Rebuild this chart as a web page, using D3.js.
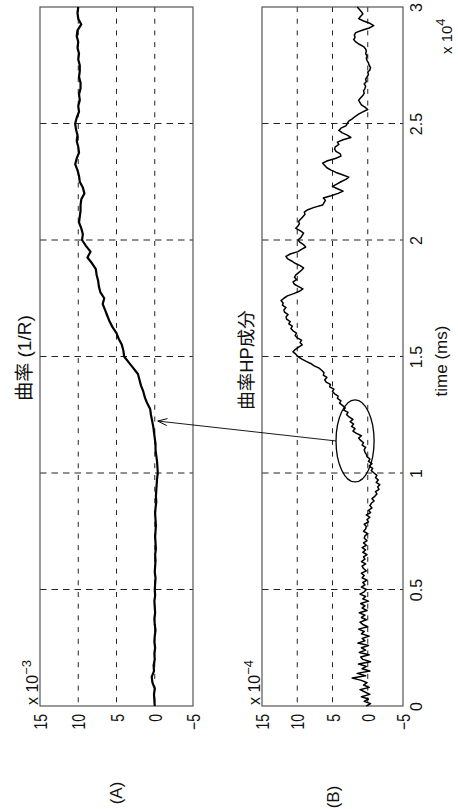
<!DOCTYPE html>
<html>
<head>
<meta charset="utf-8">
<script src="https://cdn.jsdelivr.net/npm/d3@7/dist/d3.min.js"></script>
<style>
  html, body { margin: 0; padding: 0; background: #fff; }
  svg { display: block; }
  text { font-family: "Liberation Sans", "Noto Sans CJK JP", sans-serif; fill: #111; }
</style>
</head>
<body>
<svg id="fig" width="458" height="809"></svg>
<script>
// ---- data -------------------------------------------------------------
// time axis (ms) and tick labels (x 10^4 ms)
const timeTicks = [0, 5000, 10000, 15000, 20000, 25000, 30000];
const timeTickLabels = ["0", "0.5", "1", "1.5", "2", "2.5", "3"];
// value axis ticks (shared by both panels, scaled by the multiplier)
const valueTicks = [15, 10, 5, 0, -5];
const valueTickLabels = ["15", "10", "5", "0", "\u22125"];

// (A) curvature 1/R, x 10^-3, sampled every 250 ms from 0 to 30000 ms
const stepA = 250;
const curvature = [
  0.0, 0.05, 0.1, 0.0, 0.3, 0.4, 0.1, 0.15, 0.0, 0.05,
  -0.05, 0.05, 0.0, -0.1, 0.0, 0.05, -0.05, 0.0, 0.05, -0.05,
  0.0, -0.05, -0.1, 0.0, -0.05, -0.1, -0.05, -0.15, -0.1, -0.05,
  -0.1, -0.15, -0.1, -0.05, -0.1, -0.2, -0.15, -0.2, -0.25, -0.3,
  -0.4, -0.35, -0.3, -0.2, -0.1, -0.1, 0.0, 0.1, 0.2, 0.35,
  0.5, 0.6, 1.0, 1.3, 1.5, 1.8, 2.0, 2.2, 2.8, 3.4,
  4.0, 4.1, 4.3, 4.7, 5.0, 5.5, 5.9, 6.2, 6.5, 6.8,
  6.6, 7.1, 7.3, 7.4, 7.6, 7.7, 8.2, 8.8, 8.4, 9.0,
  9.5, 9.4, 9.6, 9.9, 9.8, 9.7, 9.7, 9.6, 9.2, 9.4,
  9.8, 9.9, 10.1, 10.4, 10.2, 9.9, 10.0, 10.2, 10.1, 10.3,
  10.4, 10.2, 9.9, 10.0, 9.8, 9.9, 9.7, 9.7, 9.9, 9.8,
  9.8, 10.0, 9.9, 10.1, 10.0, 10.2, 10.1, 9.6, 10.0, 10.1,
  10.0
];

// (B) high-pass component of curvature, x 10^-4, sampled every 100 ms
const stepB = 100;
const curvatureHP = [
  0.2, -0.4, 0.5, -0.1, 0.9, -0.3, 0.4, 1.1, -0.2, 0.6,
  0.1, 0.9, 2.2, 0.3, 1.5, -0.3, 0.8, 0.2, 1.3, -0.4,
  0.7, 1.0, -0.2, 1.2, 0.3, 0.9, -0.1, 1.4, 0.4, 0.8,
  -0.2, 0.9, 0.5, 1.3, 0.0, 0.7, 1.1, 0.2, 0.9, 0.4,
  1.2, 0.1, 0.8, 0.4, 1.0, -0.1, 0.7, 0.3, 1.1, 0.5,
  0.2, 0.9, 0.4, 0.7, 0.1, 0.8, 0.5, 0.9, 0.2, 0.6,
  0.8, 0.3, 0.9, 0.4, 0.6, 0.1, 0.7, 0.3, 0.8, 0.2,
  0.6, 0.1, 0.5, 0.4, 0.0, 0.6, 0.3, 0.2, 0.5, -0.1,
  0.1, -0.3, 0.2, -0.4, -0.1, -0.6, -0.3, -0.5, -0.9, -0.6,
  -1.0, -1.3, -1.1, -1.6, -1.4, -1.7, -1.2, -1.5, -1.1, -1.3,
  -0.9, -0.5, -0.7, -0.2, -0.6, -0.1, -0.3, 0.1, 0.2, 0.4,
  0.5, 0.3, 0.8, 0.6, 1.0, 1.3, 0.9, 1.6, 2.1, 1.8,
  2.3, 2.0, 2.5, 2.1, 2.6, 3.0, 2.8, 3.4, 3.2, 3.6,
  4.0, 3.8, 4.3, 4.2, 4.7, 5.0, 4.8, 5.4, 5.3, 5.9,
  6.1, 5.8, 6.3, 6.2, 6.5, 6.9, 7.6, 8.1, 8.8, 9.4,
  9.9, 10.2, 10.6, 10.3, 9.8, 9.3, 9.6, 9.4, 10.0, 10.3,
  10.1, 10.6, 10.9, 10.7, 11.2, 11.0, 11.5, 11.6, 11.3, 11.8,
  11.9, 11.6, 12.1, 12.0, 12.3, 11.9, 11.4, 10.5, 9.7, 9.2,
  9.8, 10.4, 10.6, 10.1, 10.4, 10.2, 9.8, 9.4, 9.1, 9.6,
  10.3, 10.8, 11.4, 11.6, 11.0, 9.9, 9.4, 8.8, 9.1, 9.6,
  9.9, 9.5, 9.3, 9.1, 9.6, 10.2, 9.9, 9.7, 9.8, 9.5,
  9.2, 8.9, 9.0, 8.5, 7.6, 6.4, 6.2, 6.0, 6.3, 5.2,
  4.2, 3.5, 4.3, 5.0, 4.4, 3.8, 3.1, 2.7, 3.6, 4.5,
  5.2, 5.8, 6.1, 6.4, 5.7, 4.6, 3.8, 3.9, 4.5, 4.7,
  4.6, 4.1, 4.3, 3.5, 2.4, 2.9, 3.6, 4.1, 3.8, 3.1,
  2.9, 2.7, 2.2, 1.8, 1.3, 0.7, 0.0, 0.4, 0.9, 1.1,
  1.3, 1.0, 0.7, 0.5, 0.6, 0.4, 0.3, 0.5, 0.2, 0.3,
  0.1, -0.1, 0.0, -0.3, -0.4, -0.2, -0.1, 0.1, 0.2, 0.1,
  0.3, 0.2, 0.3, 0.6, 1.2, 1.7, 2.0, 1.8, 1.9, 1.7,
  0.8, -0.2, -0.85, -0.3, 0.6, 1.3, 1.0, 0.7, 0.9, 1.2,
  1.5
];

// highlighted region on (B) and the point it refers to on (A)
const highlight = { t: 11375, v: 1.8, dt: 1760, dv: 2.7 };
const arrowTarget = { t: 12230, v: -0.4 };

// ---- layout -------------------------------------------------------------
const svg = d3.select("#fig");
const font = "'Liberation Sans', 'Noto Sans CJK JP', sans-serif";

// time runs bottom -> top on both panels
const yT = d3.scaleLinear().domain([0, 30000]).range([706, 7]);
const xA = d3.scaleLinear().domain([15, -5]).range([40, 193]);
const xB = d3.scaleLinear().domain([15, -5]).range([262, 403]);

const seriesA = curvature.map((v, i) => ({ t: i * stepA, v }));
const seriesB = curvatureHP.map((v, i) => ({ t: i * stepB, v }));

function panel(xs, series, strokeW, mult) {
  const g = svg.append("g");
  const [x0, x1] = xs.range();
  const [yb, yt] = yT.range();

  // dashed grid: constant-value lines run along time
  g.selectAll("line.gv").data(valueTicks.slice(1, -1)).join("line")
    .attr("x1", d => xs(d)).attr("x2", d => xs(d))
    .attr("y1", yt).attr("y2", yb)
    .attr("stroke", "#222").attr("stroke-width", 1)
    .attr("stroke-dasharray", "5,6.7");
  // dashed grid: constant-time lines
  g.selectAll("line.gt").data(timeTicks.slice(1, -1)).join("line")
    .attr("x1", x0).attr("x2", x1)
    .attr("y1", d => yT(d)).attr("y2", d => yT(d))
    .attr("stroke", "#222").attr("stroke-width", 1)
    .attr("stroke-dasharray", "6.5,5");

  // frame
  g.append("rect")
    .attr("x", x0).attr("y", yt).attr("width", x1 - x0).attr("height", yb - yt)
    .attr("fill", "none").attr("stroke", "#555").attr("stroke-width", 1.2);

  // value axis along the bottom edge, labels read upward
  const ax = d3.axisBottom(xs).tickValues(valueTicks)
    .tickFormat((d, i) => valueTickLabels[i]).tickSize(0);
  const ga = g.append("g").attr("transform", `translate(0,${yb})`).call(ax);
  ga.select(".domain").remove();
  ga.selectAll("text")
    .attr("x", 0).attr("y", 0).attr("dy", null)
    .attr("text-anchor", "end")
    .attr("transform", "translate(6.5,8) rotate(-90) scale(0.78,1)")
    .style("font-family", font).style("font-size", "18px").attr("fill", "#111");

  // curve
  g.append("path").datum(series)
    .attr("d", d3.line().x(d => xs(d.v)).y(d => yT(d.t)))
    .attr("fill", "none").attr("stroke", "#000")
    .attr("stroke-width", strokeW).attr("stroke-linejoin", "round");

  // multiplier  "x 10^n"
  const mt = g.append("text")
    .attr("transform", `translate(${x0 - 2},${yb - 1}) rotate(-90)`)
    .attr("text-anchor", "start")
    .style("font-family", font).style("font-size", "16px");
  mt.append("tspan").text("x 10");
  mt.append("tspan").attr("dy", "-0.55em").style("font-size", "13px").text(mult);
  return g;
}

panel(xA, seriesA, 2.2, "\u22123");
panel(xB, seriesB, 1.5, "\u22124");

// time axis labels at the right of (B)
const axT = d3.axisRight(yT).tickValues(timeTicks)
  .tickFormat((d, i) => timeTickLabels[i]).tickSize(0);
const gT = svg.append("g").attr("transform", `translate(${xB.range()[1]},0)`).call(axT);
gT.select(".domain").remove();
gT.selectAll("text")
  .attr("x", 0).attr("y", 0).attr("dy", null)
  .attr("text-anchor", "middle")
  .attr("transform", "translate(19,0) rotate(-90)")
  .style("font-family", font).style("font-size", "16px").attr("fill", "#111");

// time multiplier x 10^4
const m4 = svg.append("text")
  .attr("transform", "translate(452,54) rotate(-90)")
  .style("font-family", font).style("font-size", "15px");
m4.append("tspan").text("x 10");
m4.append("tspan").attr("dy", "-0.55em").style("font-size", "13px").text("4");

// titles and axis label
function rtext(x, y, s, size) {
  svg.append("text")
    .attr("transform", `translate(${x},${y}) rotate(-90)`)
    .attr("text-anchor", "middle")
    .style("font-family", font).style("font-size", size + "px")
    .text(s);
}
rtext(31, 358, "曲率 (1/R)", 19);
rtext(253, 360, "曲率HP成分", 18.5);
rtext(447, 361, "time (ms)", 17);
rtext(122, 793, "(A)", 17);
rtext(339, 797, "(B)", 17);

// highlighted region on (B)
const cx = xB(highlight.v), cy = yT(highlight.t);
const rx = Math.abs(xB(highlight.v + highlight.dv) - cx);
const ry = Math.abs(yT(highlight.t + highlight.dt) - cy);
svg.append("ellipse")
  .attr("cx", cx).attr("cy", cy).attr("rx", rx).attr("ry", ry)
  .attr("fill", "none").attr("stroke", "#000").attr("stroke-width", 1.3);

// arrow from the ellipse to curve (A)
const ax2 = xA(arrowTarget.v), ay2 = yT(arrowTarget.t);
const ax1 = cx - rx, ay1 = cy;
svg.append("line")
  .attr("x1", ax1).attr("y1", ay1).attr("x2", ax2).attr("y2", ay2)
  .attr("stroke", "#000").attr("stroke-width", 0.9);
const ang = Math.atan2(ay1 - ay2, ax1 - ax2);
const hl = 10, ha = 0.36;
svg.append("path")
  .attr("d", `M${ax2 + hl * Math.cos(ang - ha)},${ay2 + hl * Math.sin(ang - ha)} L${ax2},${ay2} L${ax2 + hl * Math.cos(ang + ha)},${ay2 + hl * Math.sin(ang + ha)}`)
  .attr("fill", "none").attr("stroke", "#000").attr("stroke-width", 1);
</script>
</body>
</html>
